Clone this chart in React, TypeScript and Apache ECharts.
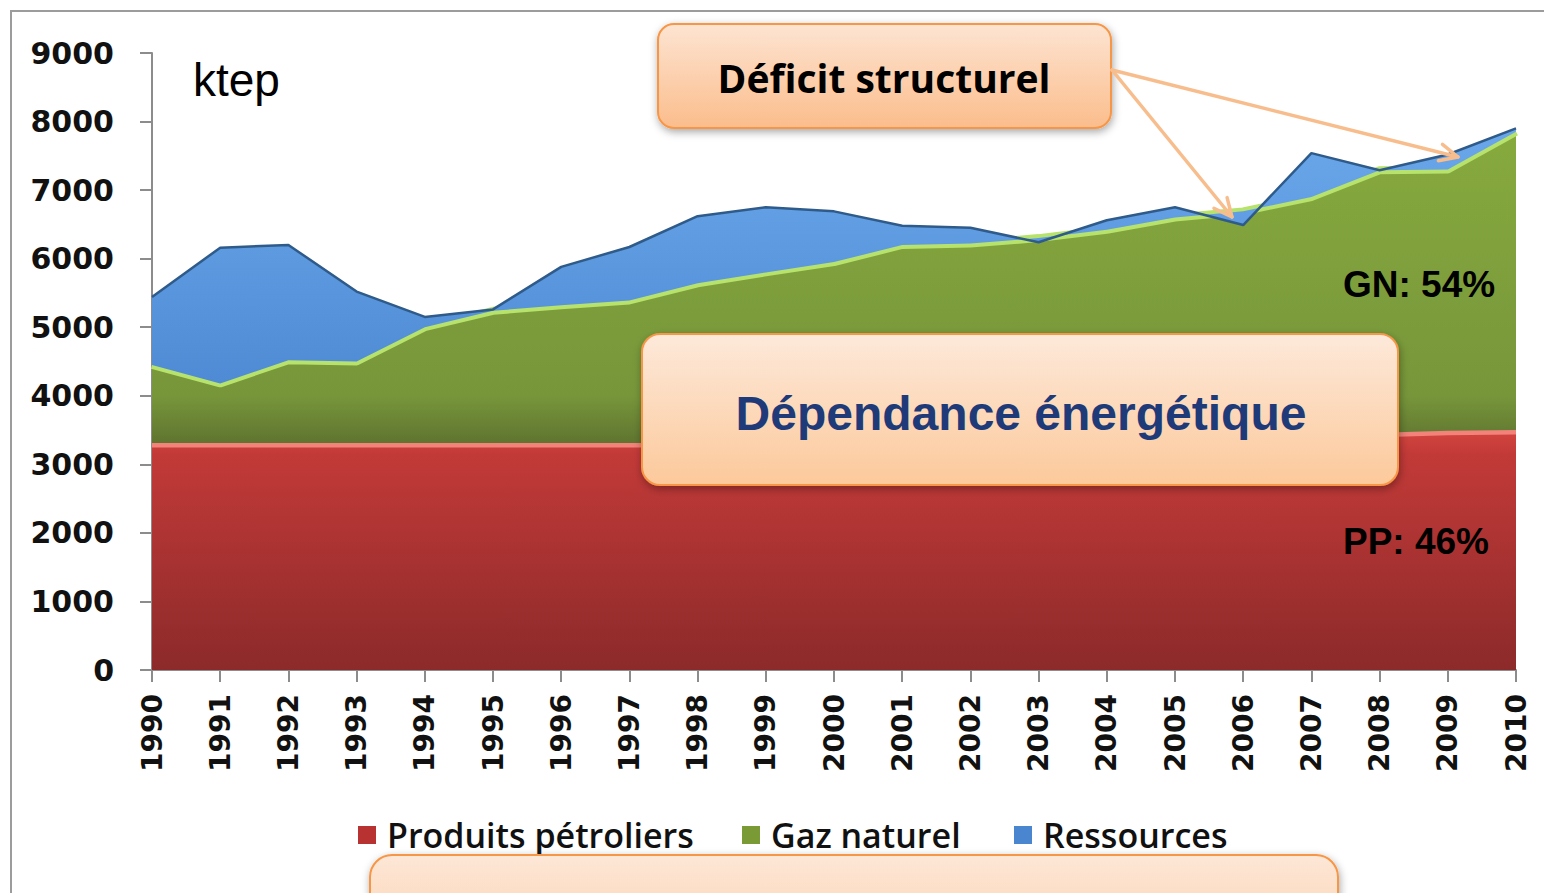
import React, { useEffect, useRef } from "react";
import * as echarts from "echarts";

const years = ["1990","1991","1992","1993","1994","1995","1996","1997","1998","1999","2000","2001","2002","2003","2004","2005","2006","2007","2008","2009","2010"];
const produitsPetroliers = [3310,3310,3310,3310,3310,3310,3310,3310,3310,3310,3320,3330,3340,3350,3370,3390,3410,3430,3460,3490,3500];
const gazNaturel = [1140,870,1210,1190,1690,1930,2010,2080,2330,2490,2630,2870,2880,2950,3050,3210,3280,3470,3830,3810,4350];
const ressources = [990,1980,1680,1020,150,20,560,780,980,950,740,280,230,-60,140,150,-200,640,0,220,50];

const seriesNames = ["Produits pétroliers", "Gaz naturel", "Ressources"];

const lg = (stops: [number, string][]) =>
  new echarts.graphic.LinearGradient(0, 0, 0, 1, stops.map(([offset, color]) => ({ offset, color })));

function arrow(x1: number, y1: number, x2: number, y2: number) {
  const dx = x2 - x1, dy = y2 - y1;
  const len = Math.hypot(dx, dy);
  const ux = -dx / len, uy = -dy / len;
  const a = (25 * Math.PI) / 180, L = 20;
  const p1 = [x2 + L * (ux * Math.cos(a) - uy * Math.sin(a)), y2 + L * (ux * Math.sin(a) + uy * Math.cos(a))];
  const p2 = [x2 + L * (ux * Math.cos(a) + uy * Math.sin(a)), y2 + L * (-ux * Math.sin(a) + uy * Math.cos(a))];
  const st = { stroke: "#f8bd8c", lineWidth: 3.5, lineCap: "round", lineJoin: "round", fill: null as any };
  return [
    { type: "line", z: 120, shape: { x1, y1, x2, y2 }, style: st },
    { type: "polyline", z: 120, shape: { points: [p1, [x2, y2], p2] }, style: st },
  ];
}

function box(x: number, y: number, w: number, h: number, r: number, top: string, bottom: string) {
  return {
    type: "rect",
    z: 110,
    shape: { x, y, width: w, height: h, r },
    style: {
      fill: lg([[0, top], [1, bottom]]),
      stroke: "#f79646",
      lineWidth: 2,
      shadowBlur: 8,
      shadowOffsetX: 1,
      shadowOffsetY: 3,
      shadowColor: "rgba(0,0,0,0.35)",
    },
  };
}

export default function App() {
  const ref = useRef<HTMLDivElement>(null);
  useEffect(() => {
    if (!ref.current) return;
    const chart = echarts.init(ref.current, null, { renderer: "svg" });
    const legendText = { fontFamily: "Open Sans", fontSize: 34, fontWeight: 600, color: "#111", padding: [0, 0, 0, 6] };
    const legendCommon = { orient: "horizontal", top: 813, icon: "rect", itemWidth: 18, itemHeight: 18, textStyle: legendText };
    chart.setOption({
      animation: false,
      backgroundColor: "#ffffff",
      grid: { left: 152, right: 28, top: 53, bottom: 223, containLabel: false },
      legend: [
        { ...legendCommon, left: 353, data: [seriesNames[0]] },
        { ...legendCommon, left: 737, data: [seriesNames[1]] },
        { ...legendCommon, left: 1009, data: [seriesNames[2]] },
      ],
      xAxis: {
        type: "category",
        data: years,
        boundaryGap: false,
        axisLine: { show: true, lineStyle: { color: "#8c8c8c", width: 2 } },
        axisTick: { show: true, length: 12, lineStyle: { color: "#8c8c8c", width: 2 } },
        axisLabel: { rotate: 90, margin: 24, fontFamily: "DejaVu Sans", fontWeight: "bold", fontSize: 28, color: "#111" },
        splitLine: { show: false },
      },
      yAxis: {
        type: "value",
        min: 0,
        max: 9000,
        interval: 1000,
        axisLine: { show: true, lineStyle: { color: "#8c8c8c", width: 2 } },
        axisTick: { show: true, length: 12, lineStyle: { color: "#8c8c8c", width: 2 } },
        axisLabel: { margin: 38, fontFamily: "DejaVu Sans", fontWeight: "bold", fontSize: 30, color: "#111", formatter: (v: number) => String(v) },
        splitLine: { show: false },
      },
      series: [
        {
          name: seriesNames[0],
          type: "line",
          stack: "total",
          stackStrategy: "all",
          symbol: "none",
          data: produitsPetroliers,
          itemStyle: { color: "#b83232" },
          lineStyle: { color: "#f2827a", width: 9 },
          areaStyle: { opacity: 1, color: lg([[0, "#d4453f"], [0.1, "#c23a38"], [1, "#8c2a2a"]]) },
          z: 2,
        },
        {
          name: seriesNames[1],
          type: "line",
          stack: "total",
          stackStrategy: "all",
          symbol: "none",
          data: gazNaturel,
          itemStyle: { color: "#7a9a35" },
          lineStyle: { color: "#b7e26c", width: 8 },
          areaStyle: { opacity: 1, color: lg([[0, "#87aa3e"], [0.85, "#77963a"], [1, "#5f7430"]]) },
          z: 3,
        },
        {
          name: seriesNames[2],
          type: "line",
          stack: "total",
          stackStrategy: "all",
          symbol: "none",
          data: ressources,
          itemStyle: { color: "#4a86d0" },
          lineStyle: { color: "#2f5b8a", width: 2.5 },
          areaStyle: { opacity: 1, color: lg([[0, "#6aa7ea"], [1, "#4e8bd4"]]) },
          z: 4,
        },
      ],
      graphic: [
        { type: "rect", z: 1, silent: true, shape: { x: 11, y: 11, width: 1620, height: 1000 }, style: { fill: null, stroke: "#9c9c9c", lineWidth: 2 } },
        { type: "text", z: 100, x: 193, y: 80, style: { text: "ktep", font: '46px "Liberation Sans", Arial, sans-serif', fill: "#000", verticalAlign: "middle" } },
        { type: "text", z: 100, x: 1343, y: 284, style: { text: "GN: 54%", font: 'bold 37px "Liberation Sans", Arial, sans-serif', fill: "#000", verticalAlign: "middle" } },
        { type: "text", z: 100, x: 1343, y: 541, style: { text: "PP: 46%", font: 'bold 37px "Liberation Sans", Arial, sans-serif', fill: "#000", verticalAlign: "middle" } },
        ...arrow(1112, 70, 1232, 217),
        ...arrow(1112, 70, 1458, 157),
        box(658, 24, 453, 104, 16, "#fde4d2", "#fbbd8c"),
        { type: "text", z: 130, x: 884, y: 77, style: { text: "Déficit structurel", font: 'bold 39px "Open Sans", sans-serif', fill: "#000", align: "center", verticalAlign: "middle" } },
        box(642, 334, 756, 151, 18, "#fde9da", "#fcc99b"),
        { type: "text", z: 130, x: 1021, y: 413, style: { text: "Dépendance énergétique", font: 'bold 48px "Liberation Sans", Arial, sans-serif', fill: "#1f3a78", align: "center", verticalAlign: "middle" } },
        box(370, 855, 968, 90, 22, "#fde7d7", "#fcd3b0"),
      ],
    });
    return () => chart.dispose();
  }, []);
  return <div ref={ref} style={{ position: "fixed", left: 0, top: 0, width: 1544, height: 893 }} />;
}
